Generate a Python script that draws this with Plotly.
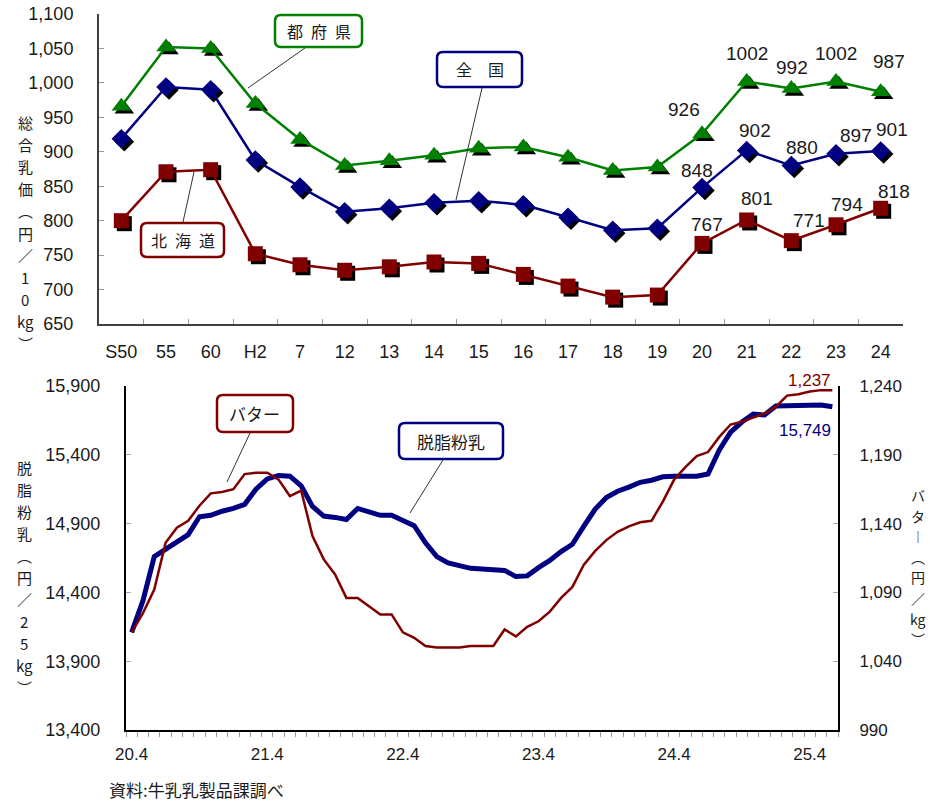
import plotly.graph_objects as go

W, H = 930, 804
def px(x): return x / W
def py(y): return 1 - y / H

# ---------------- data: top chart (総合乳価, 円/10kg) ----------------
categories = ["S50", "55", "60", "H2", "7", "12", "13", "14", "15", "16",
              "17", "18", "19", "20", "21", "22", "23", "24"]
tofuken = [966, 1052, 1050, 970, 918, 880, 887, 895, 905, 907,
           892, 873, 878, 926, 1002, 992, 1002, 987]
zenkoku = [919, 994, 990, 888, 849, 813, 818, 826, 829, 823,
           805, 786, 789, 848, 902, 880, 897, 901]
hokkaido = [800, 871, 874, 752, 736, 728, 733, 740, 738, 722,
            705, 689, 692, 767, 801, 771, 794, 818]

# ---------------- data: bottom chart (monthly, H20.4 - H25.6) ----------------
month_tick_labels = ["20.4", "21.4", "22.4", "23.4", "24.4", "25.4"]
skim_milk = [14110, 14340, 14660, 14710, 14760, 14820, 14950, 14960, 14990, 15010,
             15040, 15150, 15225, 15250, 15245, 15175, 15025, 14955, 14945, 14930,
             15010, 14985, 14960, 14960, 14925, 14885, 14760, 14660, 14615, 14595,
             14575, 14570, 14566, 14560, 14515, 14520, 14580, 14632, 14697, 14750,
             14880, 15004, 15090, 15135, 15165, 15200, 15215, 15240, 15244, 15244,
             15244, 15260, 15435, 15565, 15638, 15696, 15689, 15755, 15755, 15755,
             15762, 15762, 15749]
butter = [1061, 1075, 1092, 1126, 1137, 1142, 1153, 1162, 1163, 1165,
          1176, 1177, 1177, 1172, 1160, 1164, 1131, 1114, 1103, 1086,
          1086, 1080, 1074, 1074, 1061, 1057, 1051, 1050, 1050, 1050,
          1051, 1051, 1051, 1063, 1058, 1065, 1069, 1076, 1086, 1094,
          1110, 1120, 1128, 1134, 1138, 1141, 1142, 1156, 1172, 1181,
          1189, 1192, 1203, 1212, 1214, 1217, 1220, 1225, 1233, 1234,
          1236, 1237, 1237]
month_pos = list(range(len(skim_milk)))
month_tick_pos = month_pos[::12]
month_boundaries = [p - 0.5 for p in month_pos] + [month_pos[-1] + 0.5]

GREEN = "#008000"
NAVY = "#000080"
MAROON = "#800000"
TXT = "#1a1a1a"
NUM_FONT = "Liberation Sans, Arial, sans-serif"
CJK_FONT = "Noto Sans CJK JP, sans-serif"

# pixel geometry
TOP_L, TOP_R, TOP_T, TOP_B = 99, 903, 14, 324
BOT_L, BOT_R, BOT_T, BOT_B = 126, 838, 386, 730
y_top_range = [650, 1100]
cat_w = (TOP_R - TOP_L) / len(categories)
shadow_dx = 3 / cat_w
shadow_dy = 3 * (y_top_range[1] - y_top_range[0]) / (TOP_B - TOP_T)

fig = go.Figure()

series = [
    (tofuken, GREEN, "triangle-up", 17),
    (zenkoku, NAVY, "diamond", 15),
    (hokkaido, MAROON, "square", 15),
]
# marker drop shadows (same data on an offset hidden axis)
for vals, color, sym, size in series:
    fig.add_trace(go.Scatter(x=categories, y=vals, mode="markers",
                             marker=dict(symbol=sym, size=size, color="#000000"),
                             xaxis="x", yaxis="y", hoverinfo="skip", showlegend=False))
for vals, color, sym, size in series:
    fig.add_trace(go.Scatter(x=categories, y=vals, mode="lines+markers",
                             line=dict(color=color, width=2.5),
                             marker=dict(symbol=sym, size=size, color=color),
                             xaxis="x4", yaxis="y4", showlegend=False))

# bottom chart
fig.add_trace(go.Scatter(x=month_pos, y=skim_milk, mode="lines",
                         line=dict(color=NAVY, width=5), xaxis="x2", yaxis="y2",
                         showlegend=False))
fig.add_trace(go.Scatter(x=month_pos, y=butter, mode="lines",
                         line=dict(color=MAROON, width=2.5), xaxis="x2", yaxis="y3",
                         showlegend=False))

tick_font = dict(family=NUM_FONT, size=18, color=TXT)

fig.update_layout(
    width=W, height=H, margin=dict(l=0, r=0, t=0, b=0, autoexpand=False),
    paper_bgcolor="white", plot_bgcolor="rgba(0,0,0,0)",
    showlegend=False,
    # hidden shadow axes (base)
    xaxis=dict(domain=[px(TOP_L), px(TOP_R)], type="category", categoryarray=categories,
               range=[-0.5 - shadow_dx, len(categories) - 0.5 - shadow_dx],
               visible=False, anchor="y", automargin=False),
    yaxis=dict(domain=[py(TOP_B), py(TOP_T)],
               range=[y_top_range[0] + shadow_dy, y_top_range[1] + shadow_dy],
               visible=False, anchor="x", automargin=False),
    # visible top axes
    xaxis4=dict(overlaying="x", anchor="y4", type="category", categoryarray=categories,
                range=[-0.5, len(categories) - 0.5], automargin=False,
                showline=True, linecolor="#404040", linewidth=2,
                ticks="inside", tickson="boundaries", ticklen=5, tickcolor="#999",
                tickfont=tick_font, ticklabelstandoff=10, showgrid=False, zeroline=False),
    yaxis4=dict(overlaying="y", anchor="x4", range=y_top_range, tick0=650, dtick=50,
                tickformat=",d", showline=True, linecolor="#404040", linewidth=2,
                ticks="inside", ticklen=5, tickcolor="#999", automargin=False,
                tickfont=tick_font, ticklabelstandoff=20, showgrid=False, zeroline=False),
    # bottom axes: x2 carries boundary ticks, x5 carries the labels
    xaxis2=dict(domain=[px(BOT_L), px(BOT_R)], anchor="y2",
                range=[-0.5, len(skim_milk) - 0.5], automargin=False,
                tickvals=month_boundaries, showticklabels=False,
                ticks="outside", ticklen=5, tickcolor="#999",
                showline=True, linecolor="#000", linewidth=2,
                showgrid=False, zeroline=False),
    xaxis5=dict(overlaying="x2", anchor="y2", range=[-0.5, len(skim_milk) - 0.5],
                tickvals=month_tick_pos, ticktext=month_tick_labels, ticks="",
                showline=False, tickfont=dict(family=NUM_FONT, size=17, color=TXT),
                ticklabelstandoff=12, showgrid=False, zeroline=False, automargin=False),
    yaxis2=dict(domain=[py(BOT_B), py(BOT_T)], anchor="x2", range=[13400, 15900],
                tick0=13400, dtick=500, tickformat=",d", showline=True,
                linecolor="#000", linewidth=2, automargin=False,
                ticks="inside", ticklen=5, tickcolor="#aaa",
                tickfont=tick_font, ticklabelstandoff=20, showgrid=False, zeroline=False),
    yaxis3=dict(overlaying="y2", anchor="x2", side="right", range=[990, 1240],
                tick0=990, dtick=50, automargin=False,
                tickformat=",d", showline=True, linecolor="#000", linewidth=2,
                ticks="inside", ticklen=5, tickcolor="#aaa",
                tickfont=dict(family=NUM_FONT, size=17, color=TXT), ticklabelstandoff=16,
                showgrid=False, zeroline=False),
)
# invisible trace so the label axis x5 is laid out
fig.add_trace(go.Scatter(x=[month_pos[0]], y=[skim_milk[0]], mode="markers",
                         marker=dict(size=1, color="rgba(0,0,0,0)"),
                         xaxis="x5", yaxis="y2", hoverinfo="skip", showlegend=False))

annotations = []
shapes = []

# data labels (last five years); x given as category index
label_offsets = {
    "green": [(-18, 24), (0, 28), (1, 21), (0, 28), (8, 30)],
    "navy": [(-5, 17), (8, 20), (11, 18), (20, 18), (11, 22)],
    "maroon": [(5, 19), (10, 21), (18, 20), (11, 20), (13, 17)],
}
for vals, key in [(tofuken, "green"), (zenkoku, "navy"), (hokkaido, "maroon")]:
    n = len(label_offsets[key])
    start = len(categories) - n
    for k, (dx, dy) in enumerate(label_offsets[key]):
        idx = start + k
        annotations.append(dict(x=idx, y=vals[idx], xref="x4", yref="y4",
                                text=str(vals[idx]), showarrow=False,
                                xshift=dx, yshift=dy,
                                font=dict(family=NUM_FONT, size=19, color=TXT)))

# end labels bottom chart
annotations.append(dict(x=month_pos[-1], y=butter[-1], xref="x2", yref="y3",
                        text=f"{butter[-1]:,}", showarrow=False, xanchor="right",
                        xshift=1, yshift=10,
                        font=dict(family=NUM_FONT, size=17, color=MAROON)))
annotations.append(dict(x=month_pos[-1], y=skim_milk[-1], xref="x2", yref="y2",
                        text=f"{skim_milk[-1]:,}", showarrow=False, xanchor="right",
                        xshift=1, yshift=-24,
                        font=dict(family=NUM_FONT, size=17, color=NAVY)))


def rounded_box(x0, y0, x1, y1, color, r=6, width=2.5):
    pts = [
        f"M {px(x0 + r)},{py(y0)}", f"L {px(x1 - r)},{py(y0)}",
        f"Q {px(x1)},{py(y0)} {px(x1)},{py(y0 + r)}", f"L {px(x1)},{py(y1 - r)}",
        f"Q {px(x1)},{py(y1)} {px(x1 - r)},{py(y1)}", f"L {px(x0 + r)},{py(y1)}",
        f"Q {px(x0)},{py(y1)} {px(x0)},{py(y1 - r)}", f"L {px(x0)},{py(y0 + r)}",
        f"Q {px(x0)},{py(y0)} {px(x0 + r)},{py(y0)}", "Z",
    ]
    return dict(type="path", xref="paper", yref="paper", path=" ".join(pts),
                line=dict(color=color, width=width), fillcolor="white", layer="above")


def leader(x0, y0, x1, y1):
    return dict(type="line", xref="paper", yref="paper", x0=px(x0), y0=py(y0),
                x1=px(x1), y1=py(y1), line=dict(color="#333", width=1), layer="above")


callouts = [
    ("都\u2002府\u2002県", (275, 15, 362, 47), GREEN, (305, 48, 248, 88), 16),
    ("全\u3000国", (437, 52, 522, 87), NAVY, (482, 88, 456, 200), 16),
    ("北\u2002海\u2002道", (141, 223, 224, 257), MAROON, (183, 222, 194, 172), 16),
    ("バター", (217, 395, 293, 432), MAROON, (250, 433, 227, 482), 17),
    ("脱脂粉乳", (399, 423, 503, 459), NAVY, (443, 460, 410, 513), 17),
]
for text, (x0, y0, x1, y1), color, (lx0, ly0, lx1, ly1), fs in callouts:
    shapes.append(leader(lx0, ly0, lx1, ly1))
    shapes.append(rounded_box(x0, y0, x1, y1, color))
    annotations.append(dict(x=px((x0 + x1) / 2), y=py((y0 + y1) / 2), xref="paper",
                            yref="paper", text=text, showarrow=False,
                            xanchor="center", yanchor="middle",
                            font=dict(family=CJK_FONT, size=fs, color=TXT)))

# vertical axis titles: one upright character per line
def vertical_title(chars, x, y_center, step, size):
    n = len(chars)
    for k, ch in enumerate(chars):
        y = y_center + (k - (n - 1) / 2) * step
        annotations.append(dict(x=px(x), y=py(y), xref="paper", yref="paper",
                                text=ch, showarrow=False,
                                xanchor="center", yanchor="middle",
                                font=dict(family=CJK_FONT, size=size, color=TXT)))

vertical_title(["総", "合", "乳", "価", "︵", "円", "／", "1", "0", "kg", "︶"],
               25, 233, 22.1, 15)
vertical_title(["脱", "脂", "粉", "乳", "︵", "円", "／", "2", "5", "kg", "︶"],
               24, 577, 22.0, 15)
vertical_title(["バ", "タ", "︱", "︵", "円", "／", "kg", "︶"],
               918, 567, 20.6, 14)

# source note (kept fully inside the figure)
annotations.append(dict(x=px(107), y=0, xref="paper", yref="paper",
                        text="資料:牛乳乳製品課調べ", showarrow=False,
                        xanchor="left", yanchor="bottom",
                        font=dict(family=CJK_FONT, size=17, color=TXT)))

fig.update_layout(annotations=annotations, shapes=shapes)
fig.write_html("out.html")
